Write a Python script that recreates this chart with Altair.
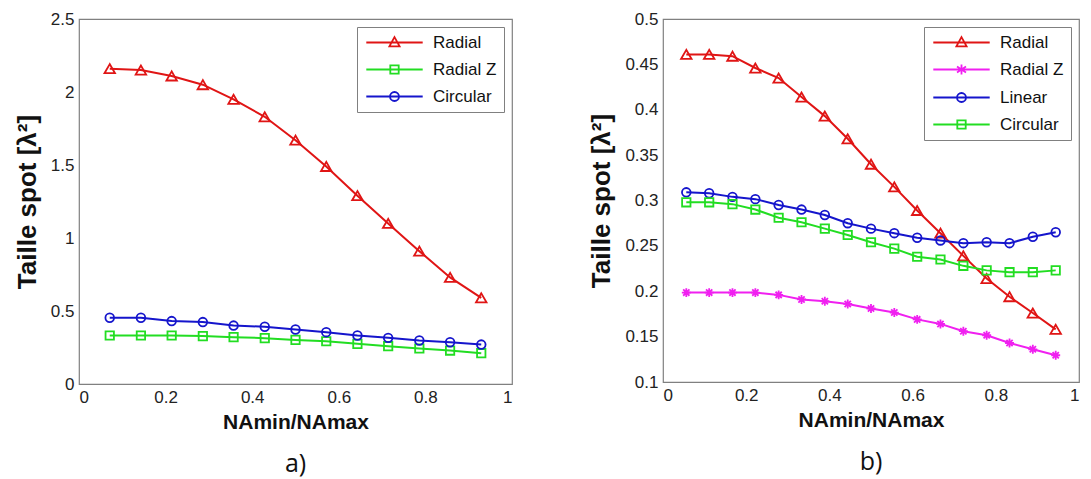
import altair as alt
import pandas as pd

# ---------------- data ----------------
xa = [0.071, 0.143, 0.214, 0.286, 0.357, 0.429, 0.5, 0.571, 0.643, 0.714, 0.786, 0.857, 0.929]
a_names = ["Radial", "Radial Z", "Circular"]
a_radial = [2.16, 2.15, 2.11, 2.05, 1.95, 1.83, 1.67, 1.49, 1.29, 1.10, 0.91, 0.73, 0.59]
a_radialz = [0.332, 0.332, 0.332, 0.328, 0.321, 0.314, 0.302, 0.293, 0.275, 0.259, 0.243, 0.229, 0.211]
a_circular = [0.454, 0.454, 0.431, 0.424, 0.400, 0.392, 0.373, 0.355, 0.332, 0.316, 0.298, 0.286, 0.270]

xb = [0.056, 0.111, 0.167, 0.222, 0.278, 0.333, 0.389, 0.444, 0.5, 0.556, 0.611, 0.667, 0.722, 0.778, 0.833, 0.889, 0.944]
b_names = ["Radial", "Radial Z", "Linear", "Circular"]
b_radial = [0.461, 0.461, 0.459, 0.446, 0.435, 0.414, 0.393, 0.368, 0.340, 0.315, 0.289, 0.264, 0.239, 0.214, 0.194, 0.176, 0.158]
b_radialz = [0.1985, 0.1985, 0.1985, 0.1985, 0.196, 0.191, 0.189, 0.186, 0.181, 0.1765, 0.169, 0.164, 0.156, 0.1515, 0.143, 0.136, 0.1295]
b_linear = [0.309, 0.308, 0.304, 0.3015, 0.295, 0.290, 0.284, 0.275, 0.269, 0.264, 0.259, 0.256, 0.253, 0.254, 0.253, 0.260, 0.265]
b_circular = [0.298, 0.298, 0.296, 0.290, 0.281, 0.276, 0.269, 0.262, 0.254, 0.247, 0.238, 0.235, 0.228, 0.223, 0.221, 0.221, 0.223]

x_ticks = [0, 0.2, 0.4, 0.6, 0.8, 1]
a_yticks = [0, 0.5, 1, 1.5, 2, 2.5]
b_yticks = [0.1, 0.15, 0.2, 0.25, 0.3, 0.35, 0.4, 0.45, 0.5]

# ---------------- styles ----------------
RED, GREEN, BLUE, MAG = "#e01515", "#22dd22", "#1515cc", "#f020f0"
AST = "M0,-1V1M-1,0H1M-0.7,-0.7L0.7,0.7M-0.7,0.7L0.7,-0.7"
L_TRI = "M-4.7,0H4.7M0,-0.9L0.85,0.65H-0.85Z"
L_SQ = "M-4.7,0H4.7M-0.7,-0.7H0.7V0.7H-0.7Z"
L_CIR = "M-4.7,0H4.7M-0.75,0A0.75,0.75,0,1,0,0.75,0A0.75,0.75,0,1,0,-0.75,0Z"
L_AST = "M-4.7,0H4.7M0,-0.85V0.85M-0.75,-0.5L0.75,0.5M-0.75,0.5L0.75,-0.5"

FONT = "Liberation Sans"


def panel(x, series, names, colors, shapes, sizes, lpaths, ydomain, yticks, w, h, label):
    rows = []
    for name, ys in zip(names, series):
        for xv, yv in zip(x, ys):
            rows.append({"x": xv, "y": yv, "s": name})
    df = pd.DataFrame(rows)
    base = alt.Chart(df)
    xenc = alt.X("x:Q", scale=alt.Scale(domain=[0, 1], nice=False),
                 axis=alt.Axis(values=x_ticks, format="~g", title="NAmin/NAmax",
                               titleFontSize=21, titlePadding=6))
    yenc = alt.Y("y:Q", scale=alt.Scale(domain=ydomain, nice=False, zero=False),
                 axis=alt.Axis(values=yticks, format="~g", title="Taille spot  [λ²]",
                               titleFontSize=26, titlePadding=10, titleLimit=1000))
    layers = []
    for name, c, sh, sz in zip(names, colors, shapes, sizes):
        sub = base.transform_filter(alt.datum.s == name)
        layers.append(sub.mark_line(color=c, strokeWidth=2).encode(x=xenc, y=yenc))
        layers.append(sub.mark_point(color=c, shape=sh, filled=False, size=sz,
                                     strokeWidth=1.8, opacity=1).encode(x=xenc, y=yenc))
    lg = alt.Legend(title=None, orient="top-right", offset=8, padding=7,
                    strokeColor="#808080", fillColor="white", labelFont=FONT,
                    labelFontSize=17, labelColor="#111111", symbolSize=144,
                    symbolStrokeWidth=1.8, labelOffset=30, symbolOffset=22,
                    rowPadding=9)
    leg = base.transform_filter("datum.y < -1000").mark_point(filled=False, strokeWidth=1.8, opacity=1).encode(
        x=xenc, y=yenc,
        color=alt.Color("s:N", scale=alt.Scale(domain=names, range=colors), legend=lg),
        shape=alt.Shape("s:N", scale=alt.Scale(domain=names, range=lpaths), legend=lg),
    )
    layers.append(leg)
    return alt.layer(*layers).properties(
        width=w, height=h,
        title=alt.TitleParams(label, orient="bottom", fontSize=25, font="Open Sans",
                              fontWeight="normal", offset=20, color="#111111"))


pa = panel(xa, [a_radial, a_radialz, a_circular], a_names,
           [RED, GREEN, BLUE], ["triangle-up", "square", "circle"], [110, 70, 75],
           [L_TRI, L_SQ, L_CIR], [0, 2.5], a_yticks, 433, 365, "a)")
pb = panel(xb, [b_radial, b_radialz, b_linear, b_circular], b_names,
           [RED, MAG, BLUE, GREEN], ["triangle-up", AST, "circle", "square"], [110, 80, 75, 70],
           [L_TRI, L_AST, L_CIR, L_SQ], [0.1, 0.5], b_yticks, 416, 363, "b)")

chart = alt.hconcat(pa, pb, spacing=75).resolve_scale(
    color="independent", shape="independent"
).resolve_legend(color="independent", shape="independent").properties(
    padding={"left": 5, "top": 1, "right": 0, "bottom": 0},
    background="white",
).configure_view(stroke="#808080", strokeWidth=1.2).configure_axis(
    domain=False, ticks=False, grid=False, labelFont=FONT, labelFontSize=17,
    labelColor="#222222", labelPadding=5, titleFont=FONT, titleFontWeight="bold",
    titleColor="#111111"
)

chart.save("out.html", embed_options={"renderer": "svg", "actions": False})
